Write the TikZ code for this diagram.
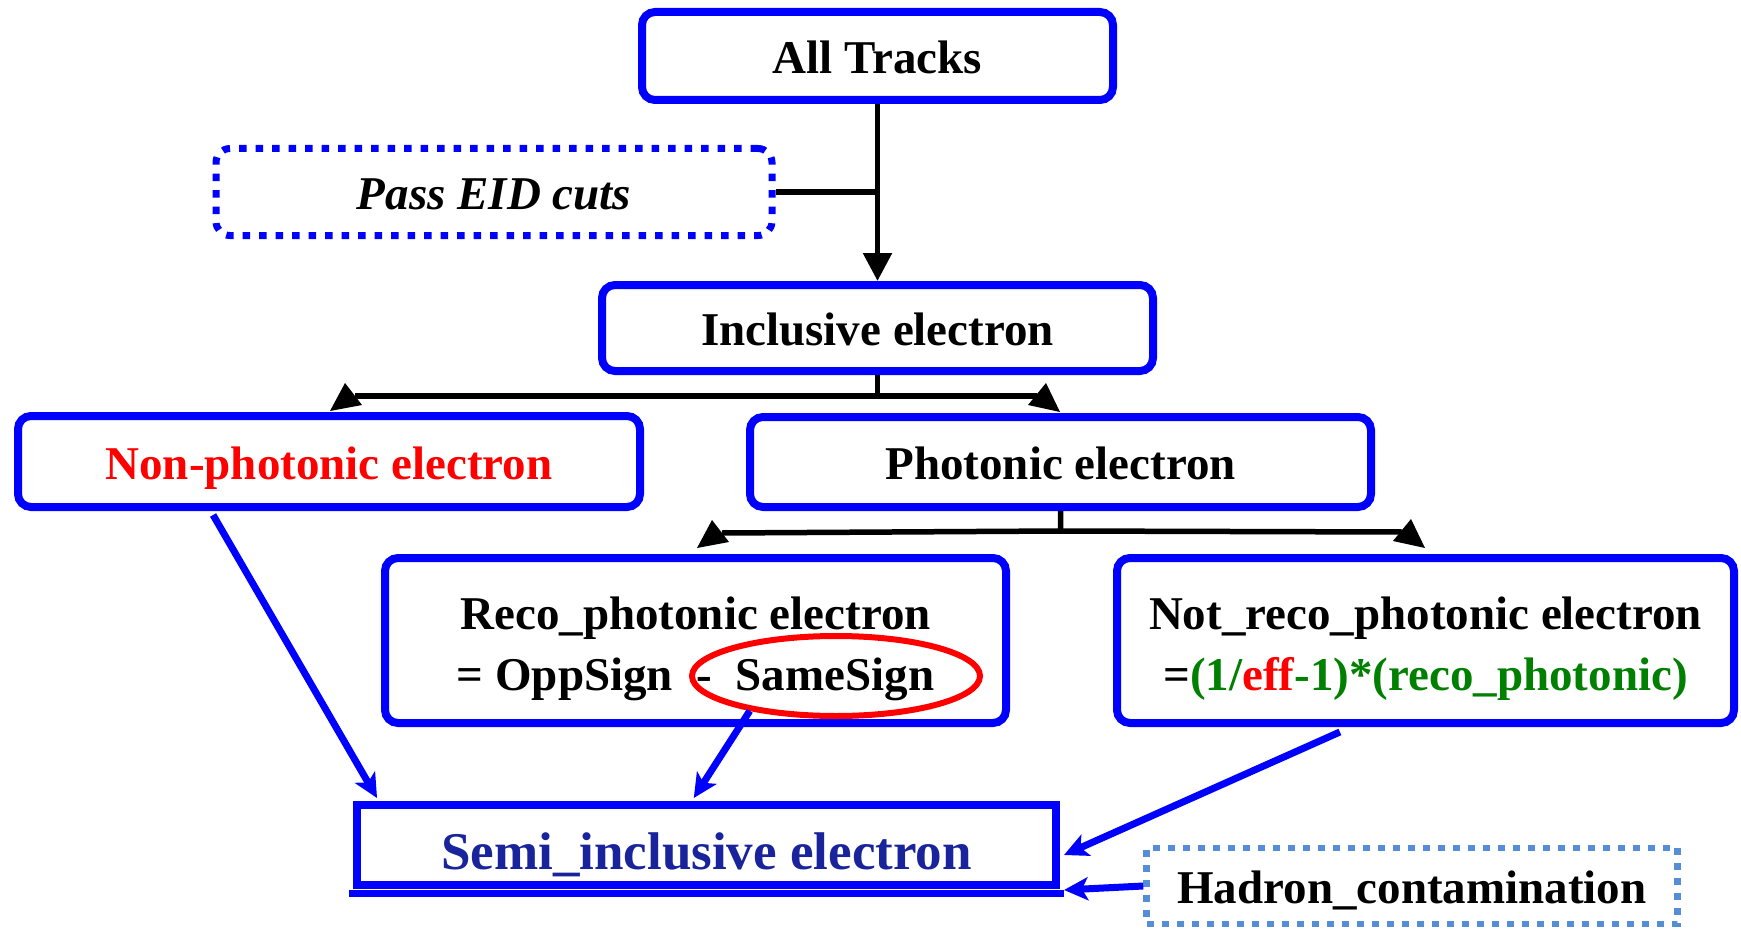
\documentclass[tikz,border=0pt]{standalone}
\usepackage{fontspec}
\setmainfont{Liberation Serif}
\usetikzlibrary{arrows.meta,calc,shapes.geometric}
\definecolor{semiblue}{RGB}{25,35,155}
\definecolor{hadblue}{RGB}{85,142,213}
\definecolor{dgreen}{RGB}{0,128,0}
\newcommand{\topstrut}{\rule{0pt}{49pt}}
\begin{document}
\begin{tikzpicture}[x=1pt,y=-1pt,
  txt/.style={font=\fontsize{47}{61}\selectfont\bfseries},
  one/.style={text height=44pt, text depth=9pt},
  box/.style={draw=blue, line width=8pt, rounded corners=13pt, fill=white, inner sep=0pt, align=center, txt},
  dotbox/.style={draw=blue, line width=7pt, rounded corners=14pt, dash pattern=on 7.5pt off 9pt, fill=white, inner sep=0pt, align=center, txt},
  sqbox/.style={draw=blue, line width=8pt, fill=white, inner sep=0pt, align=center},
  hadbox/.style={draw=hadblue, line width=6.5pt, dash pattern=on 7pt off 8pt, fill=white, inner sep=0pt, align=center, txt},
  blk/.style={draw=black, line width=5.5pt},
  blkarrow/.style={draw=black, line width=5.5pt, -{Triangle[length=28pt,width=28pt]}},
  tri/.style={fill=black},
  bluearrow/.style={draw=blue, line width=7pt, -{Stealth[length=24pt,width=23pt,inset=6pt]}}
]
\fill[white] (0,0) rectangle (1741,931);
\useasboundingbox (0,0) rectangle (1741,931);

\node[box, one, minimum width=471pt, minimum height=88pt] (all) at (877.5,56) {All Tracks};
\node[dotbox, one, minimum width=556pt, minimum height=87pt] (pass) at (494,192) {\itshape Pass EID cuts};
\node[box, one, minimum width=551pt, minimum height=86pt] (incl) at (877.5,328) {Inclusive electron};
\node[box, one, minimum width=622pt, minimum height=91pt, text=red] (nonph) at (329,461.5) {Non-photonic electron};
\node[box, one, minimum width=621pt, minimum height=90pt] (ph) at (1060.5,462) {Photonic electron};
\node[box, minimum width=621pt, minimum height=165pt] (reco) at (695.5,640.5) {\topstrut Reco\_photonic electron\\= OppSign\ \ -\ \ SameSign};
\node[box, minimum width=617pt, minimum height=165pt] (notreco) at (1425.5,640.5) {\topstrut Not\_reco\_photonic electron\\=\textcolor{dgreen}{(1/}\textcolor{red}{eff}\textcolor{dgreen}{-1)*(reco\_photonic)}};
\node[draw=red, line width=6pt, ellipse, minimum width=288pt, minimum height=80pt, inner sep=0pt] (ell) at (836,676) {};
\node[sqbox, minimum width=699pt, minimum height=80pt, text=semiblue, font=\fontsize{53}{60}\selectfont\bfseries, text height=56pt, text depth=7pt] (semi) at (706.5,845) {Semi\_inclusive electron};
\draw[blue, line width=7pt] ($(semi.south west)+(-4,4)$) -- ($(semi.south east)+(4,4)$);
\node[hadbox, one, minimum width=531pt, minimum height=76pt] (had) at (1412,886) {Hadron\_contamination};

% black connectors
\draw[blkarrow] (all.south) -- (incl.north);
\draw[blk] (pass.east) -- (pass.east -| all.south);

\coordinate (j1) at ($(incl.south)+(0,21)$);
\coordinate (tl1) at (330,411);
\coordinate (tr1) at (1060,412);
\draw[blk] (incl.south) -- (j1) -- ($(tl1)+(25,-15)$);
\draw[blk] (j1) -- ($(tr1)+(-23,-16)$);
\fill[tri] (tl1) -- ($(tl1)+(15,-28)$) -- ($(tl1)+(32,-6)$) -- cycle;
\fill[tri] (tr1) -- ($(tr1)+(-14,-29)$) -- ($(tr1)+(-32,-7)$) -- cycle;

\coordinate (j2) at ($(ph.south)+(0,20)$);
\coordinate (tl2) at (697,548);
\coordinate (tr2) at (1425,548);
\draw[blk] (ph.south) -- (j2) -- ($(tl2)+(25,-15)$);
\draw[blk] (j2) -- ($(tr2)+(-23,-16)$);
\fill[tri] (tl2) -- ($(tl2)+(15,-28)$) -- ($(tl2)+(32,-6)$) -- cycle;
\fill[tri] (tr2) -- ($(tr2)+(-14,-29)$) -- ($(tr2)+(-32,-7)$) -- cycle;

% blue connectors
\draw[bluearrow] ($(nonph.south west)!0.316!(nonph.south east)+(0,4)$) -- ($(semi.north west)!0.034!(semi.north east)+(0,-3)$);
\draw[bluearrow] (ell.-158) -- ($(semi.north west)!0.482!(semi.north east)+(0,-3)$);
\draw[bluearrow] ($(notreco.south west)!0.363!(notreco.south east)+(0,5)$) -- ($(semi.east)+(4,10)$);
\draw[bluearrow] (had.west) -- ($(semi.east)+(4,45)$);
\end{tikzpicture}
\end{document}
